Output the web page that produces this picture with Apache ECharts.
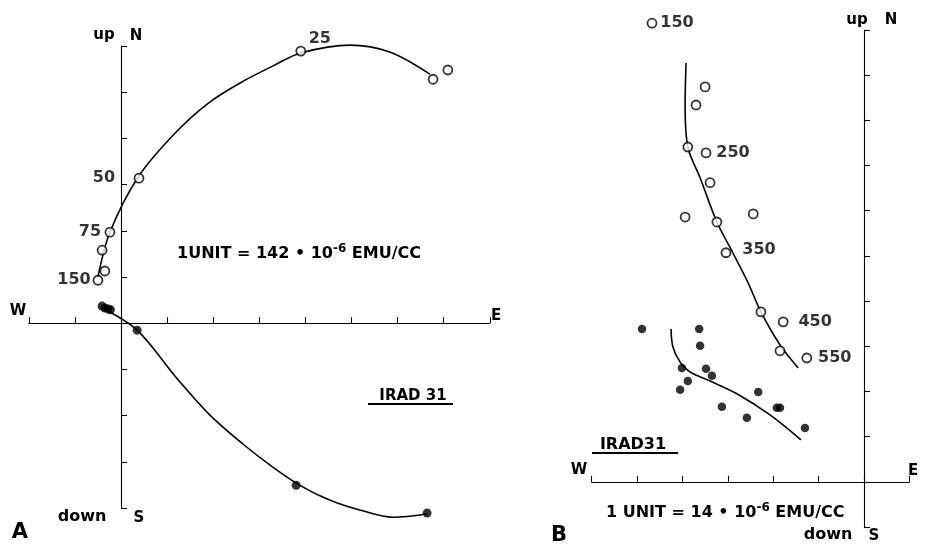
<!DOCTYPE html>
<html>
<head>
<meta charset="utf-8">
<script src="https://cdn.jsdelivr.net/npm/echarts@6.0.0/dist/echarts.min.js"></script>
<style>
  html, body { margin: 0; padding: 0; background: #fff; }
  #chart { width: 925px; height: 547px; }
</style>
</head>
<body>
<div id="chart"></div>
<script>
// ---- Panel A (1 unit = 142e-6 emu/cc) ----
// horizontal-plane projection (open circles), E and N components
const aOpenE = [7.09, 6.77, 3.90, 0.39, -0.24, -0.41, -0.35, -0.50];
const aOpenN = [5.48, 5.28, 5.89, 3.14, 1.97, 1.58, 1.13, 0.93];
const aOpenLabels = ['', '', '25', '50', '75', '', '', '150'];
// vertical-plane projection (filled dots), E and up components
const aFilledE = [-0.41, -0.35, -0.28, -0.23, 0.35, 3.80, 6.64];
const aFilledUp = [0.37, 0.33, 0.31, 0.29, -0.15, -3.51, -4.11];
// fitted demagnetisation paths
const aOpenPathE = [-0.50, -0.24, 0.37, 1.17, 1.89, 2.62, 3.30, 3.90, 4.97, 5.83, 6.70];
const aOpenPathN = [1.00, 1.97, 3.16, 4.11, 4.76, 5.22, 5.57, 5.85, 6.02, 5.87, 5.39];
const aFilledPathE = [-0.39, 0.35, 1.21, 1.93, 2.65, 3.30, 3.90, 4.55, 5.20, 5.90, 6.64];
const aFilledPathUp = [0.32, -0.15, -1.19, -1.99, -2.62, -3.12, -3.52, -3.84, -4.05, -4.20, -4.13];

// ---- Panel B (1 unit = 14e-6 emu/cc) ----
const bOpenE = [-4.67, -3.50, -3.70, -3.88, -3.48, -3.39, -3.94, -2.44, -3.24, -3.04, -2.27, -1.78, -1.85, -1.26];
const bOpenN = [10.15, 8.74, 8.34, 7.41, 7.28, 6.62, 5.86, 5.93, 5.75, 5.07, 3.76, 3.54, 2.90, 2.74];
const bOpenLabels = ['150', '', '', '', '250', '', '', '', '', '350', '', '450', '', '550'];
const bFilledE = [-4.89, -3.63, -3.61, -4.01, -3.48, -3.35, -3.88, -4.05, -2.33, -3.13, -1.92, -1.85, -2.58, -1.30];
const bFilledUp = [3.38, 3.38, 3.01, 2.52, 2.50, 2.35, 2.23, 2.04, 1.99, 1.66, 1.64, 1.64, 1.42, 1.19];
const bOpenPathE = [-3.92, -3.94, -3.88, -3.61, -3.24, -2.89, -2.56, -2.27, -1.85, -1.45];
const bOpenPathN = [9.27, 8.34, 7.41, 6.73, 5.75, 5.07, 4.42, 3.76, 3.03, 2.52];
const bFilledPathE = [-4.25, -4.21, -4.05, -3.83, -3.39, -2.80, -2.07, -1.39];
const bFilledPathUp = [3.38, 2.99, 2.65, 2.43, 2.23, 1.95, 1.48, 0.93];

// label offsets (pixels from the marker centre)
const aLabelOffset = { '25': [19, -12], '50': [-35, 0], '75': [-20, 0], '150': [-24, 0] };
const bLabelOffset = { '150': [25, 0], '250': [27, 0], '350': [33, -3], '450': [32, 0], '550': [28, 0] };

const FONT = '"DejaVu Sans", "Liberation Sans", sans-serif';
const INK = '#000';

function pairs(xs, ys) { return xs.map((x, i) => [x, ys[i]]); }

function labelled(xs, ys, labels, offsets) {
  return xs.map((x, i) => {
    const item = { value: [x, ys[i]] };
    if (labels[i]) {
      item.label = {
        show: true, formatter: labels[i], position: 'inside',
        offset: offsets[labels[i]], color: INK, fontFamily: FONT, fontSize: 16, fontWeight: 'bold'
      };
    }
    return item;
  });
}

function axisPair(idx, xr, yr) {
  const common = {
    gridIndex: idx, type: 'value', interval: 1,
    axisLine: { onZero: true, lineStyle: { color: INK, width: 1.1 } },
    axisTick: { show: true, inside: true, length: 6, lineStyle: { color: INK, width: 1.1 } },
    axisLabel: { show: false }, splitLine: { show: false }
  };
  return {
    x: Object.assign({}, common, { min: xr[0], max: xr[1] }),
    y: Object.assign({}, common, { min: yr[0], max: yr[1] })
  };
}

const axA = axisPair(0, [-2, 8], [-4, 6]);
const axB = axisPair(1, [-6, 1], [-1, 10]);

const openStyle = { color: '#fff', borderColor: INK, borderWidth: 1.8 };
const filledStyle = { color: INK };
const pathStyle = { color: INK, width: 1.6 };

function path(idx, xs, ys) {
  return {
    type: 'line', xAxisIndex: idx, yAxisIndex: idx, data: pairs(xs, ys),
    smooth: 0.33, showSymbol: false, clip: false, lineStyle: pathStyle, z: 2, silent: true
  };
}
function dots(idx, data, style, size) {
  return {
    type: 'scatter', xAxisIndex: idx, yAxisIndex: idx, data: data,
    symbol: 'circle', symbolSize: size, itemStyle: style, clip: false, z: 3, silent: true
  };
}

function txt(text, x, y, size, weight) {
  return {
    type: 'text', x: x, y: y, silent: true,
    style: {
      text: text, fill: INK, align: 'center', verticalAlign: 'middle',
      fontFamily: FONT, fontSize: size || 15, fontWeight: weight || 'bold'
    }
  };
}
function unitText(text, x, y) {
  return {
    type: 'text', x: x, y: y, silent: true,
    style: {
      text: text, fill: INK, align: 'left', verticalAlign: 'middle',
      fontFamily: FONT, fontSize: 16, fontWeight: 'bold',
      rich: { s: { fontSize: 12, fontWeight: 'bold', fontFamily: FONT, fill: INK, verticalAlign: 'top', padding: [0, 0, 10, 0] } }
    }
  };
}
function underline(x1, x2, y) {
  return { type: 'line', silent: true, shape: { x1: x1, y1: y, x2: x2, y2: y }, style: { stroke: INK, lineWidth: 1.8 } };
}

const chart = echarts.init(document.getElementById('chart'), null, { renderer: 'canvas' });
chart.setOption({
  animation: false,
  backgroundColor: '#fff',
  grid: [
    { left: 28.8, top: 46, width: 461, height: 462, containLabel: false },
    { left: 591.6, top: 30, width: 317.8, height: 497, containLabel: false }
  ],
  xAxis: [axA.x, axB.x],
  yAxis: [axA.y, axB.y],
  series: [
    path(0, aOpenPathE, aOpenPathN),
    path(0, aFilledPathE, aFilledPathUp),
    dots(0, labelled(aOpenE, aOpenN, aOpenLabels, aLabelOffset), openStyle, 9),
    dots(0, pairs(aFilledE, aFilledUp), filledStyle, 9),
    path(1, bOpenPathE, bOpenPathN),
    path(1, bFilledPathE, bFilledPathUp),
    dots(1, labelled(bOpenE, bOpenN, bOpenLabels, bLabelOffset), openStyle, 9),
    dots(1, pairs(bFilledE, bFilledUp), filledStyle, 8.5)
  ],
  graphic: [
    // panel A
    txt('up', 104, 35), txt('N', 136, 36),
    txt('W', 18, 311), txt('E', 496, 316),
    txt('down', 82, 517, 16), txt('S', 139, 518),
    txt('A', 20, 533, 21),
    unitText('1UNIT = 142 • 10{s|-6} EMU/CC', 177, 254),
    txt('IRAD 31', 413, 396),
    underline(368, 453, 404),
    // panel B
    txt('up', 857, 20), txt('N', 891, 20),
    txt('W', 579, 470), txt('E', 913, 471),
    txt('down', 828, 535, 16), txt('S', 874, 536),
    txt('B', 559, 536, 21),
    unitText('1 UNIT = 14 • 10{s|-6} EMU/CC', 606, 513),
    txt('IRAD31', 633, 445, 16),
    underline(592, 678, 453)
  ]
});
</script>
</body>
</html>
